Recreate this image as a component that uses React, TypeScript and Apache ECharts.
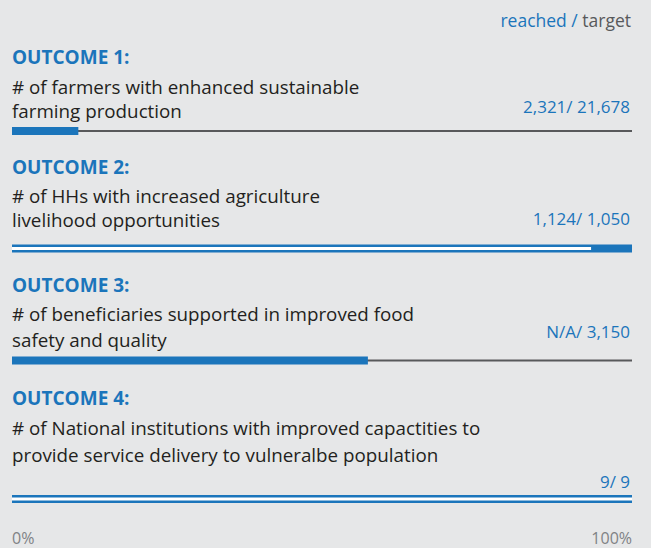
import React, { useEffect, useRef } from "react";
import * as echarts from "echarts";

// ---- data ----
const outcomeTitles = ["OUTCOME 1:", "OUTCOME 2:", "OUTCOME 3:", "OUTCOME 4:"];
const descLine1 = [
  "# of farmers with enhanced sustainable",
  "# of HHs with increased agriculture",
  "# of beneficiaries supported in improved food",
  "# of National institutions with improved capactities to",
];
const descLine2 = [
  "farming production",
  "livelihood opportunities",
  "safety and quality",
  "provide service delivery to vulneralbe population",
];
const reachedLabels = ["2,321", "1,124", "N/A", "9"];
const targetLabels = ["21,678", "1,050", "3,150", "9"];
// bar lengths in % of the row scale (scale = max(reached, target))
const reachedPct = [10.7, 100, 57.4, 100];
const targetPct = [100, 93.4, 100, 100];
const axisTicks = ["0%", "100%"];

// ---- layout ----
const BLUE = "#1b75bb";
const DARK = "#231f20";
const GRAY = "#58595b";
const BG = "#e6e7e8";
const FONT = "'Open Sans'";
const W = 651;
const H = 548;
const LEFT = 12;
const RIGHT = 632;
const barY = [131, 248.5, 360.5, 499];
const titleY = [57, 167, 285, 397.7];
const line1Y = [86.5, 196, 314.3, 428.3];
const line2Y = [110.8, 220.2, 339.8, 455];
const labelY = [106.3, 218, 331.3, 481];

export default function App() {
  const ref = useRef<HTMLDivElement>(null);
  useEffect(() => {
    if (!ref.current) return;
    const chart = echarts.init(ref.current, null, { renderer: "svg" });

    const grids: any[] = [];
    const xAxes: any[] = [];
    const yAxes: any[] = [];
    const series: any[] = [];
    const graphics: any[] = [];

    reachedPct.forEach((r, i) => {
      const t = targetPct[i];
      const met = r >= t;
      grids.push({ left: LEFT, width: RIGHT - LEFT, top: barY[i] - 5, height: 10 });
      const last = i === reachedPct.length - 1;
      xAxes.push({
        type: "value",
        gridIndex: i,
        min: 0,
        max: 100,
        interval: 100,
        show: last,
        axisLine: { show: false },
        axisTick: { show: false },
        splitLine: { show: false },
        axisLabel: {
          show: last,
          margin: 27,
          color: "#808285",
          fontFamily: FONT,
          fontSize: 16,
          lineHeight: 14,
          alignMinLabel: "left",
          alignMaxLabel: "right",
          formatter: (v: number) => (v === 0 ? axisTicks[0] : axisTicks[1]),
        },
      });
      const yBase = yAxes.length;
      for (let k = 0; k < 3; k++) {
        yAxes.push({ type: "category", gridIndex: i, data: [outcomeTitles[i]], show: false });
      }
      // target line underneath (not met)
      series.push({
        type: "bar",
        xAxisIndex: i,
        yAxisIndex: yBase,
        data: [met ? null : t],
        barWidth: 2,
        itemStyle: { color: GRAY },
        z: 1,
      });
      // reached bar
      series.push({
        type: "bar",
        xAxisIndex: i,
        yAxisIndex: yBase + 1,
        data: [r],
        barWidth: 8,
        itemStyle: { color: BLUE },
        z: 2,
      });
      // target line over the bar (met)
      series.push({
        type: "bar",
        xAxisIndex: i,
        yAxisIndex: yBase + 2,
        data: [met ? t : null],
        barWidth: 3,
        itemStyle: { color: "#ffffff" },
        z: 3,
      });

      graphics.push({
        type: "text",
        x: LEFT,
        y: titleY[i],
        style: {
          text: outcomeTitles[i],
          fill: BLUE,
          font: `bold 19px ${FONT}`,
          lineHeight: 20,
          align: "left",
          verticalAlign: "middle",
        },
      });
      graphics.push({
        type: "text",
        x: LEFT,
        y: line1Y[i],
        style: {
          text: descLine1[i],
          fill: DARK,
          font: `18.8px ${FONT}`,
          lineHeight: 20,
          align: "left",
          verticalAlign: "middle",
        },
      });
      graphics.push({
        type: "text",
        x: LEFT,
        y: line2Y[i],
        style: {
          text: descLine2[i],
          fill: DARK,
          font: `18.8px ${FONT}`,
          lineHeight: 20,
          align: "left",
          verticalAlign: "middle",
        },
      });
      graphics.push({
        type: "text",
        x: RIGHT - 2,
        y: labelY[i],
        style: {
          text: `${reachedLabels[i]}/ ${targetLabels[i]}`,
          fill: BLUE,
          font: `17px ${FONT}`,
          lineHeight: 18,
          align: "right",
          verticalAlign: "middle",
        },
      });
    });

    graphics.push({
      type: "text",
      x: RIGHT - 1,
      y: 20,
      style: {
        text: "{a|reached /} {b|target}",
        font: `17.5px ${FONT}`,
        align: "right",
        verticalAlign: "middle",
        rich: {
          a: { fill: BLUE, font: `17.5px ${FONT}`, lineHeight: 18 },
          b: { fill: "#58595b", font: `17.5px ${FONT}`, lineHeight: 18 },
        },
      },
    });

    chart.setOption({
      animation: false,
      backgroundColor: BG,
      grid: grids,
      xAxis: xAxes,
      yAxis: yAxes,
      series,
      graphic: graphics,
    });
    return () => chart.dispose();
  }, []);
  return (
    <div
      ref={ref}
      style={{ position: "absolute", left: 0, top: 0, width: W, height: H }}
    />
  );
}
